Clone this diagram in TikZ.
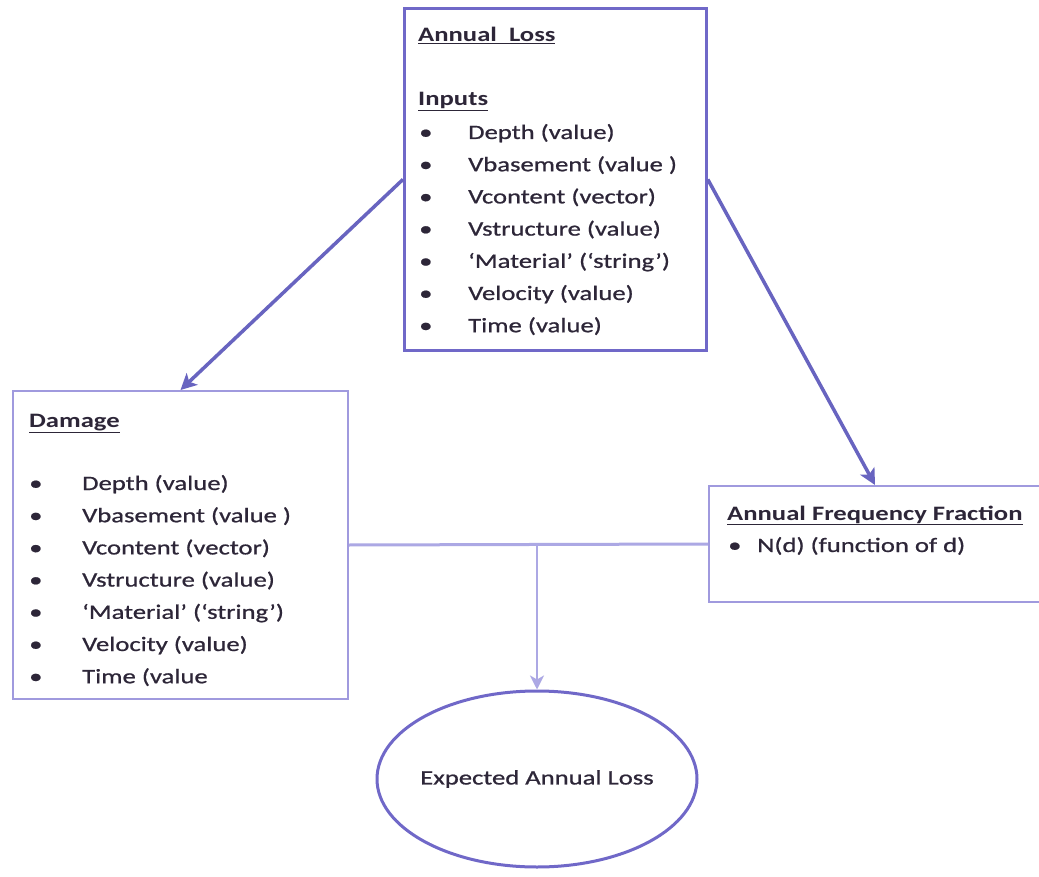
\documentclass[tikz,border=0pt]{standalone}
\usepackage{fontspec}
\setmainfont{Carlito}[FakeStretch=1.3,UprightFeatures={FakeBold=0.8}]
\usetikzlibrary{arrows.meta,shapes.geometric}
\definecolor{boxdark}{RGB}{112,104,200}
\definecolor{boxlight}{RGB}{160,154,222}
\definecolor{arrowc}{RGB}{104,100,192}
\definecolor{linelight}{RGB}{172,168,228}
\definecolor{txt}{RGB}{45,38,56}
\begin{document}
\begin{tikzpicture}[x=1pt,y=-1pt,
  darkbox/.style={draw=boxdark,line width=2.8pt,fill=white,rectangle,anchor=north west,inner sep=0pt},
  lightbox/.style={draw=boxlight,line width=2pt,fill=white,rectangle,anchor=north west,inner sep=0pt},
  txtline/.style={anchor=base west,inner sep=0pt,text=txt,font=\fontsize{20.5}{24}\selectfont},
  bigarrow/.style={draw=arrowc,line width=3.5pt,-{Stealth[length=16pt,width=16pt,inset=4pt]}},
  lightline/.style={draw=linelight,line width=3pt},
  lightarrow/.style={draw=linelight,line width=2.5pt,-{Stealth[length=14pt,width=14pt,inset=4pt]}}]
\useasboundingbox (0,0) rectangle (1039,877);
\fill[white] (0,0) rectangle (1039,877);

\node[darkbox,minimum width=302pt,minimum height=342pt] (al) at (403,7) {};
\node[lightbox,minimum width=335pt,minimum height=308pt] (dm) at (12,390) {};
\node[lightbox,minimum width=332pt,minimum height=116pt] (af) at (708,485) {};
\node[ellipse,draw=boxdark,line width=3pt,inner sep=0pt,minimum width=320pt,minimum height=176pt,text=txt,font=\fontsize{20.5}{24}\selectfont] (eal) at (537,779) {\makebox[0pt][c]{Expected Annual Loss}};

% Annual Loss box text
\node[txtline] (altitle) at (418,42) {\textbf{\underline{Annual\ \ Loss}}};
\node[txtline] (alinputs) at (418,106) {\textbf{\underline{Inputs}}};
\foreach \t [count=\i from 0] in {{Depth (value)},{Vbasement (value )},{Vcontent (vector)},{Vstructure (value)},{‘Material’ (‘string’)},{Velocity (value)},{Time (value)}}{
  \node[txtline] (alb\i) at (419,139+32.2*\i) {\textbullet};
  \node[txtline] (ali\i) at (468,139+32.2*\i) {\t};
}

% Damage box text
\node[txtline] (dmtitle) at (29,427) {\textbf{\underline{Damage}}};
\foreach \t [count=\i from 0] in {{Depth (value)},{Vbasement (value )},{Vcontent (vector)},{Vstructure (value)},{‘Material’ (‘string’)},{Velocity (value)},{Time (value}}{
  \node[txtline] (dmb\i) at (29,490+32.2*\i) {\textbullet};
  \node[txtline] (dmi\i) at (82,490+32.2*\i) {\t};
}

% Annual Frequency Fraction box text
\node[txtline] (aftitle) at (727,520) {\textbf{\underline{Annual Frequency Fraction}}};
\node[txtline] (afb) at (728,552) {\textbullet};
\node[txtline] (afi) at (757,552) {N(d) (function of d)};

\draw[bigarrow] (al.west) -- (dm.north);
\draw[bigarrow] (al.east) -- (af.north);
\draw[lightline] (dm.east) -- (af.west);
\coordinate (j) at (537,544);
\draw[lightarrow] (j) -- (eal.north);
\end{tikzpicture}
\end{document}
